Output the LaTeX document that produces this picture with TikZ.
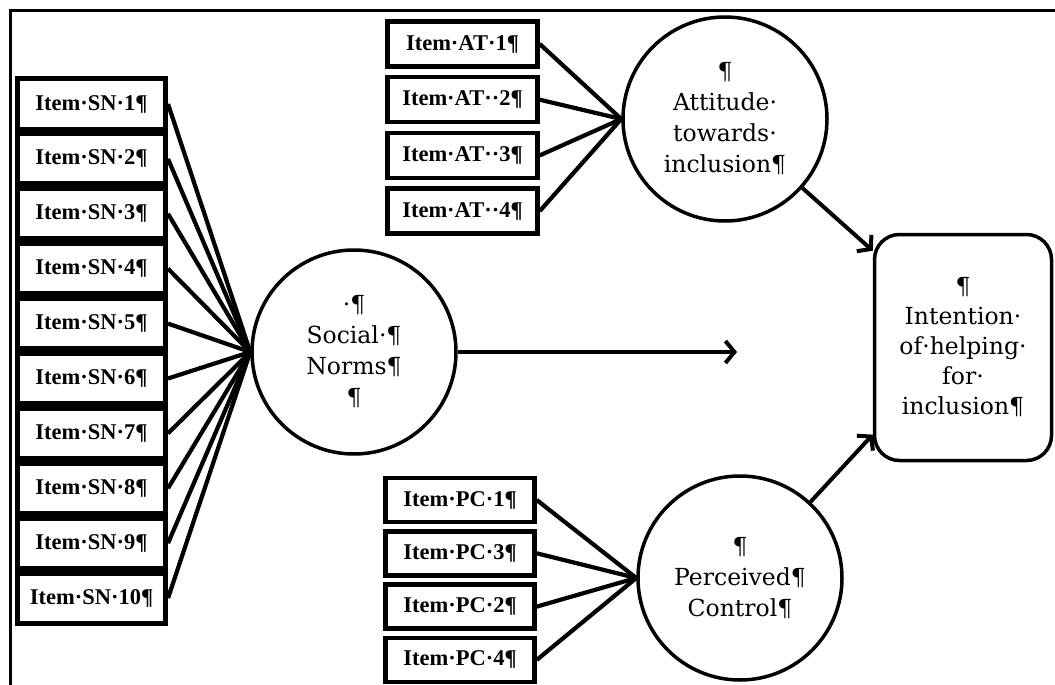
\documentclass[tikz,border=0pt]{standalone}
\usepackage{fontspec}
\setmainfont{Liberation Serif}
\newfontfamily\circfont{DejaVu Serif}
\usetikzlibrary{arrows.meta}

\begin{document}
\begin{tikzpicture}
        [x=1pt, y=-1pt,
        item/.style={rectangle, draw, line width=5pt, inner sep=0pt, minimum width=148pt, minimum height=50pt, font=\fontsize{22.5}{26}\selectfont\bfseries},
        atitem/.style={item, line width=4.5pt, minimum width=150pt, minimum height=45pt},
        pcitem/.style={item, line width=4.5pt, minimum width=149pt, minimum height=44pt},
        factor/.style={circle, draw, line width=3.5pt, minimum size=204pt, inner sep=0pt, align=center, font=\fontsize{23.5}{31}\selectfont\circfont},
        outcome/.style={rectangle, rounded corners=25pt, draw, line width=3.5pt, minimum width=177pt, minimum height=226pt, align=center, font=\fontsize{23.5}{30}\selectfont\circfont},
        edge/.style={line width=4.2pt},
        arr/.style={line width=4pt, -{Straight Barb[length=9pt, width=22pt]}}]

        \useasboundingbox (0,0) rectangle (1055,685);

        % Frame (top and left only)
        \draw[line width=3pt] (10,685) -- (10,10.5) -- (1055,10.5);

        % Social norms items
        \node[item] (SN1) at (91.5,104) {Item·SN·1¶};
        \node[item] (SN2) at (91.5,158.9) {Item·SN·2¶};
        \node[item] (SN3) at (91.5,213.8) {Item·SN·3¶};
        \node[item] (SN4) at (91.5,268.7) {Item·SN·4¶};
        \node[item] (SN5) at (91.5,323.6) {Item·SN·5¶};
        \node[item] (SN6) at (91.5,378.5) {Item·SN·6¶};
        \node[item] (SN7) at (91.5,433.4) {Item·SN·7¶};
        \node[item] (SN8) at (91.5,488.3) {Item·SN·8¶};
        \node[item] (SN9) at (91.5,543.2) {Item·SN·9¶};
        \node[item] (SN10) at (91.5,598.1) {Item·SN·10¶};

        % Attitude items
        \node[atitem] (AT1) at (462.5,44) {Item·AT·1¶};
        \node[atitem] (AT2) at (462.5,99.7) {Item·AT··2¶};
        \node[atitem] (AT3) at (462.5,155.4) {Item·AT··3¶};
        \node[atitem] (AT4) at (462.5,211.1) {Item·AT··4¶};

        % Perceived control items
        \node[pcitem] (PC1) at (460,500) {Item·PC·1¶};
        \node[pcitem] (PC3) at (460,553.3) {Item·PC·3¶};
        \node[pcitem] (PC2) at (460,606.6) {Item·PC·2¶};
        \node[pcitem] (PC4) at (460,659.9) {Item·PC·4¶};

        % Latent factors and outcome
        \node[factor] (SN) at (354,352) {·¶\\Social·¶\\Norms¶\\¶};
        \node[factor] (AT) at (725,119) {¶\\Attitude·\\towards·\\inclusion¶};
        \node[factor] (PC) at (740,578) {¶\\Perceived¶\\Control¶};
        \node[outcome] (INT) at (963,347.5) {¶\\Intention·\\of·helping·\\for·\\inclusion¶};
        \coordinate (tip) at (737,352);

        % Item loadings
        \draw[edge] (SN1.east) -- (SN.west);
        \draw[edge] (SN2.east) -- (SN.west);
        \draw[edge] (SN3.east) -- (SN.west);
        \draw[edge] (SN4.east) -- (SN.west);
        \draw[edge] (SN5.east) -- (SN.west);
        \draw[edge] (SN6.east) -- (SN.west);
        \draw[edge] (SN7.east) -- (SN.west);
        \draw[edge] (SN8.east) -- (SN.west);
        \draw[edge] (SN9.east) -- (SN.west);
        \draw[edge] (SN10.east) -- (SN.west);
        \draw[edge] (AT1.east) -- (AT.west);
        \draw[edge] (AT2.east) -- (AT.west);
        \draw[edge] (AT3.east) -- (AT.west);
        \draw[edge] (AT4.east) -- (AT.west);
        \draw[edge] (PC1.east) -- (PC.west);
        \draw[edge] (PC3.east) -- (PC.west);
        \draw[edge] (PC2.east) -- (PC.west);
        \draw[edge] (PC4.east) -- (PC.west);

        % Paths to intention
        \draw[arr] (SN) -- (tip);
        \draw[arr] (AT) -- (INT.133.6);
        \draw[arr] (PC) -- (INT.224.5);

    \end{tikzpicture}
\end{document}
